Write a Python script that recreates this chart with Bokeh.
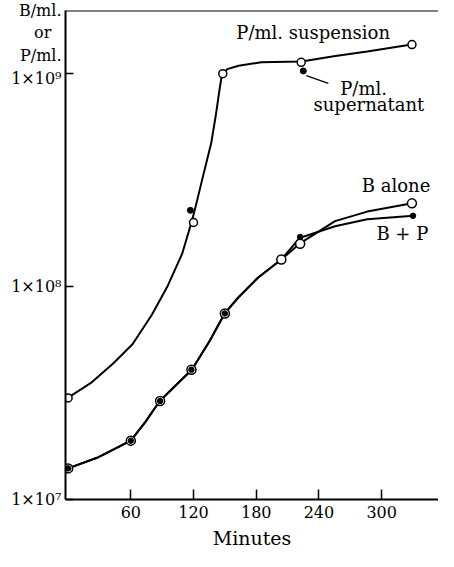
from bokeh.plotting import figure
from bokeh.models import Range1d, FixedTicker, CustomJSTickFormatter, Span, Label
from bokeh.embed import file_html
from bokeh.resources import INLINE

# ---- data (minutes, count per ml) ----
susp_t = [0, 120, 148, 223, 329]
susp_v = [3.0e7, 2.0e8, 1.0e9, 1.13e9, 1.37e9]
super_t = [117, 225]
super_v = [2.28e8, 1.03e9]
b_alone_t = [0, 60, 88, 118, 150, 204, 222, 329]
b_alone_v = [1.40e7, 1.89e7, 2.90e7, 4.07e7, 7.48e7, 1.34e8, 1.59e8, 2.46e8]
bp_t = [0, 60, 88, 118, 150, 222, 330]
bp_v = [1.40e7, 1.89e7, 2.90e7, 4.07e7, 7.48e7, 1.71e8, 2.15e8]

# hand-drawn curves
susp_curve_t = [0, 21.5, 43.1, 61.6, 80.0, 95.4, 109.2, 118.4, 121.6, 129.2,
                136.9, 141.5, 144.6, 147.0, 152.3, 163.1, 184.6, 223.4, 255.7,
                286.2, 328.6]
susp_curve_v = [3.01e7, 3.52e7, 4.35e7, 5.36e7, 7.35e7, 1.01e8, 1.43e8, 2.03e8,
                2.33e8, 3.32e8, 4.71e8, 6.46e8, 8.24e8, 9.82e8, 1.05e9, 1.09e9,
                1.13e9, 1.14e9, 1.21e9, 1.27e9, 1.37e9]
b_common_t = [0, 27.7, 60, 73.8, 87.7, 103.1, 118.4, 135.4, 149.8, 163.1,
              181.6, 204.0]
b_common_v = [1.40e7, 1.57e7, 1.89e7, 2.31e7, 2.90e7, 3.44e7, 4.07e7, 5.55e7,
              7.48e7, 8.91e7, 1.10e8, 1.34e8]
b_alone_tail_t = [221.5, 255.4, 286.2, 329.3]
b_alone_tail_v = [1.59e8, 2.03e8, 2.25e8, 2.46e8]
bp_tail_t = [221.5, 255.4, 286.2, 330.5]
bp_tail_v = [1.69e8, 1.92e8, 2.07e8, 2.15e8]

x_ticks = [60, 120, 180, 240, 300]
y_ticks = [1e7, 1e8, 1e9]

FONT = "DejaVu Serif"

p = figure(width=438, height=551, y_axis_type="log",
           x_range=Range1d(-2.5, 354.4), y_range=Range1d(1e7, 1.98e9),
           output_backend="svg", toolbar_location=None,
           min_border_left=65, min_border_right=0, min_border_top=10,
           min_border_bottom=52)
p.outline_line_color = None
p.grid.visible = False
p.background_fill_color = "white"

for ax in (p.xaxis[0], p.yaxis[0]):
    ax.axis_line_width = 2
    ax.axis_line_color = "black"
    ax.major_tick_line_width = 1.5
    ax.major_tick_line_color = "black"
    ax.major_tick_out = 0
    ax.minor_tick_line_color = None
    ax.major_label_text_font = FONT
    ax.major_label_text_font_size = "16px"
    ax.major_label_text_color = "black"

p.xaxis.ticker = FixedTicker(ticks=x_ticks)
p.xaxis.major_tick_in = 10
p.xaxis.major_label_standoff = 6
p.xaxis.axis_label = "Minutes"
p.xaxis.axis_label_text_font = FONT
p.xaxis.axis_label_text_font_style = "normal"
p.xaxis.axis_label_text_font_size = "19px"
p.xaxis.axis_label_text_color = "black"
p.xaxis.axis_label_standoff = 6

p.yaxis.ticker = FixedTicker(ticks=y_ticks)
p.yaxis.major_tick_in = 8
p.yaxis.major_label_standoff = 4
p.yaxis.major_label_text_line_height = 1.2
p.yaxis.formatter = CustomJSTickFormatter(code="""
const e = Math.round(Math.log10(tick));
const sup = {7: '\u2077', 8: '\u2078', 9: '\u2079'};
const s = '1\u00d710' + (sup[e] || String(e));
if (e == 9) {
  return 'B/ml.\\nor\u00a0\u00a0\\nP/ml.\\n' + s + '\\n\u00a0\\n\u00a0\\n\u00a0';
}
return s;
""")

# top border line
p.add_layout(Span(location=1.98e9, dimension="width", line_color="black", line_width=2))

# curves
p.line(susp_curve_t, susp_curve_v, line_color="black", line_width=2)
p.line(b_common_t + b_alone_tail_t, b_common_v + b_alone_tail_v, line_color="black", line_width=2)
p.line(b_common_t + bp_tail_t, b_common_v + bp_tail_v, line_color="black", line_width=2)

# markers
p.scatter(susp_t, susp_v, marker="circle", size=8, fill_color="white",
          line_color="black", line_width=1.5)
p.scatter(b_alone_t, b_alone_v, marker="circle", size=9, fill_color="white",
          line_color="black", line_width=1.5)
p.scatter(bp_t, bp_v, marker="circle", size=5.5, fill_color="black", line_color="black")
p.scatter(super_t, super_v, marker="circle", size=6, fill_color="black", line_color="black")

# leader line for supernatant
p.segment(x0=[228], y0=[9.8e8], x1=[249], y1=[9.0e8], line_color="black", line_width=1.3)

def lab(x, y, text, size="18px", align="center"):
    p.add_layout(Label(x=x, y=y, text=text, text_font=FONT, text_font_size=size,
                       text_align=align, text_baseline="middle", text_color="black"))

lab(234.5, 1.56e9, "P/ml. suspension")
lab(282.7, 8.55e8, "P/ml.")
lab(287.8, 7.14e8, "supernatant")
lab(313.8, 2.99e8, "B alone")
lab(319.8, 1.77e8, "B + P")

open("out.html", "w", encoding="utf-8").write(file_html(p, INLINE))
